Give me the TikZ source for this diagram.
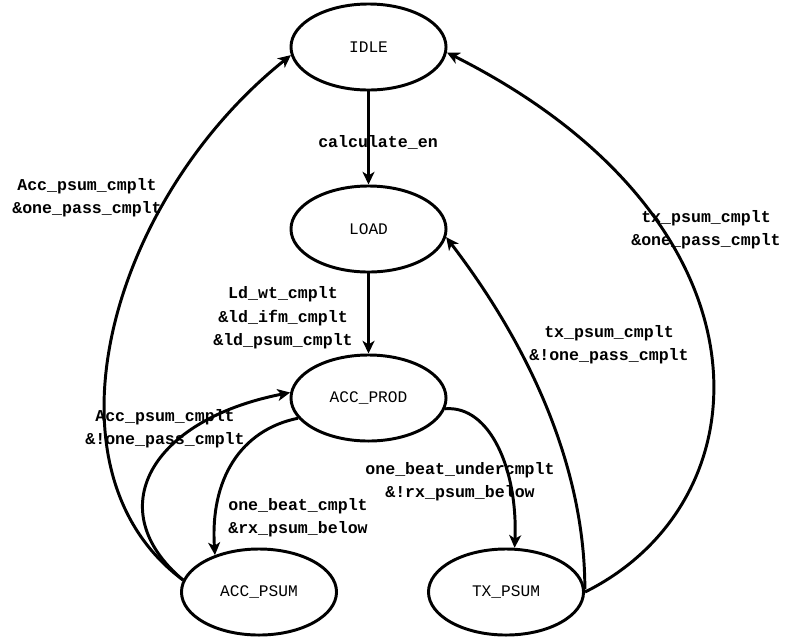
\documentclass[tikz,border=0pt]{standalone}
\usepackage{fontspec}
\setmonofont{Liberation Mono}
\usetikzlibrary{shapes.geometric,arrows.meta}
\begin{document}
\begin{tikzpicture}[x=0.025cm,y=-0.025cm,
  state/.style={ellipse,draw,line width=2.1pt,inner sep=0pt,
    minimum width=3.875cm,minimum height=2.15cm,font=\ttfamily\fontsize{11.5}{14}\selectfont},
  lbl/.style={align=center,inner sep=0pt,font=\ttfamily\bfseries\fontsize{11.8}{16.6}\selectfont},
  trans/.style={line width=2.1pt,-{Stealth[length=9pt,width=8.5pt,inset=2.5pt]}}]
\useasboundingbox (0,0) rectangle (806,640);
\node[state] (idle) at (368.5,47) {IDLE};
\node[state] (load) at (368.5,229) {LOAD};
\node[state] (accprod) at (368.5,398) {ACC\_PROD};
\node[state] (accpsum) at (259,592) {ACC\_PSUM};
\node[state] (txpsum) at (506,592) {TX\_PSUM};

\draw[trans] (idle.south) -- (load.north);
\draw[trans] (load.south) -- (accprod.north);
\draw[trans] (accpsum.171) .. controls (35,470) and (110,200) .. (idle.186);
\draw[trans] (accpsum.171) .. controls (100,510) and (150,420) .. (accprod.176);
\draw[trans] (accprod.196) .. controls (240,430) and (210,480) .. (accpsum.140);
\draw[trans] (accprod.-8) .. controls (490,405) and (518,470) .. (txpsum.79);
\draw[trans] (txpsum.2) .. controls (585,480) and (540,360) .. (load.-6);
\draw[trans] (txpsum.0) .. controls (770,500) and (780,220) .. (idle.-4);

\node[lbl] (l1) at (378,142) {calculate\_en};
\node[lbl] (l2) at (283,318) {Ld\_wt\_cmplt\\\&ld\_ifm\_cmplt\\\&ld\_psum\_cmplt};
\node[lbl] (l3) at (87,198) {Acc\_psum\_cmplt\\\&one\_pass\_cmplt};
\node[lbl] (l4) at (165,429) {Acc\_psum\_cmplt\\\&!one\_pass\_cmplt};
\node[lbl] (l5) at (298,518) {one\_beat\_cmplt\\\&rx\_psum\_below};
\node[lbl] (l6) at (460,482) {one\_beat\_undercmplt\\\&!rx\_psum\_below};
\node[lbl] (l7) at (609,345) {tx\_psum\_cmplt\\\&!one\_pass\_cmplt};
\node[lbl] (l8) at (706,230) {tx\_psum\_cmplt\\\&one\_pass\_cmplt};
\end{tikzpicture}
\end{document}
